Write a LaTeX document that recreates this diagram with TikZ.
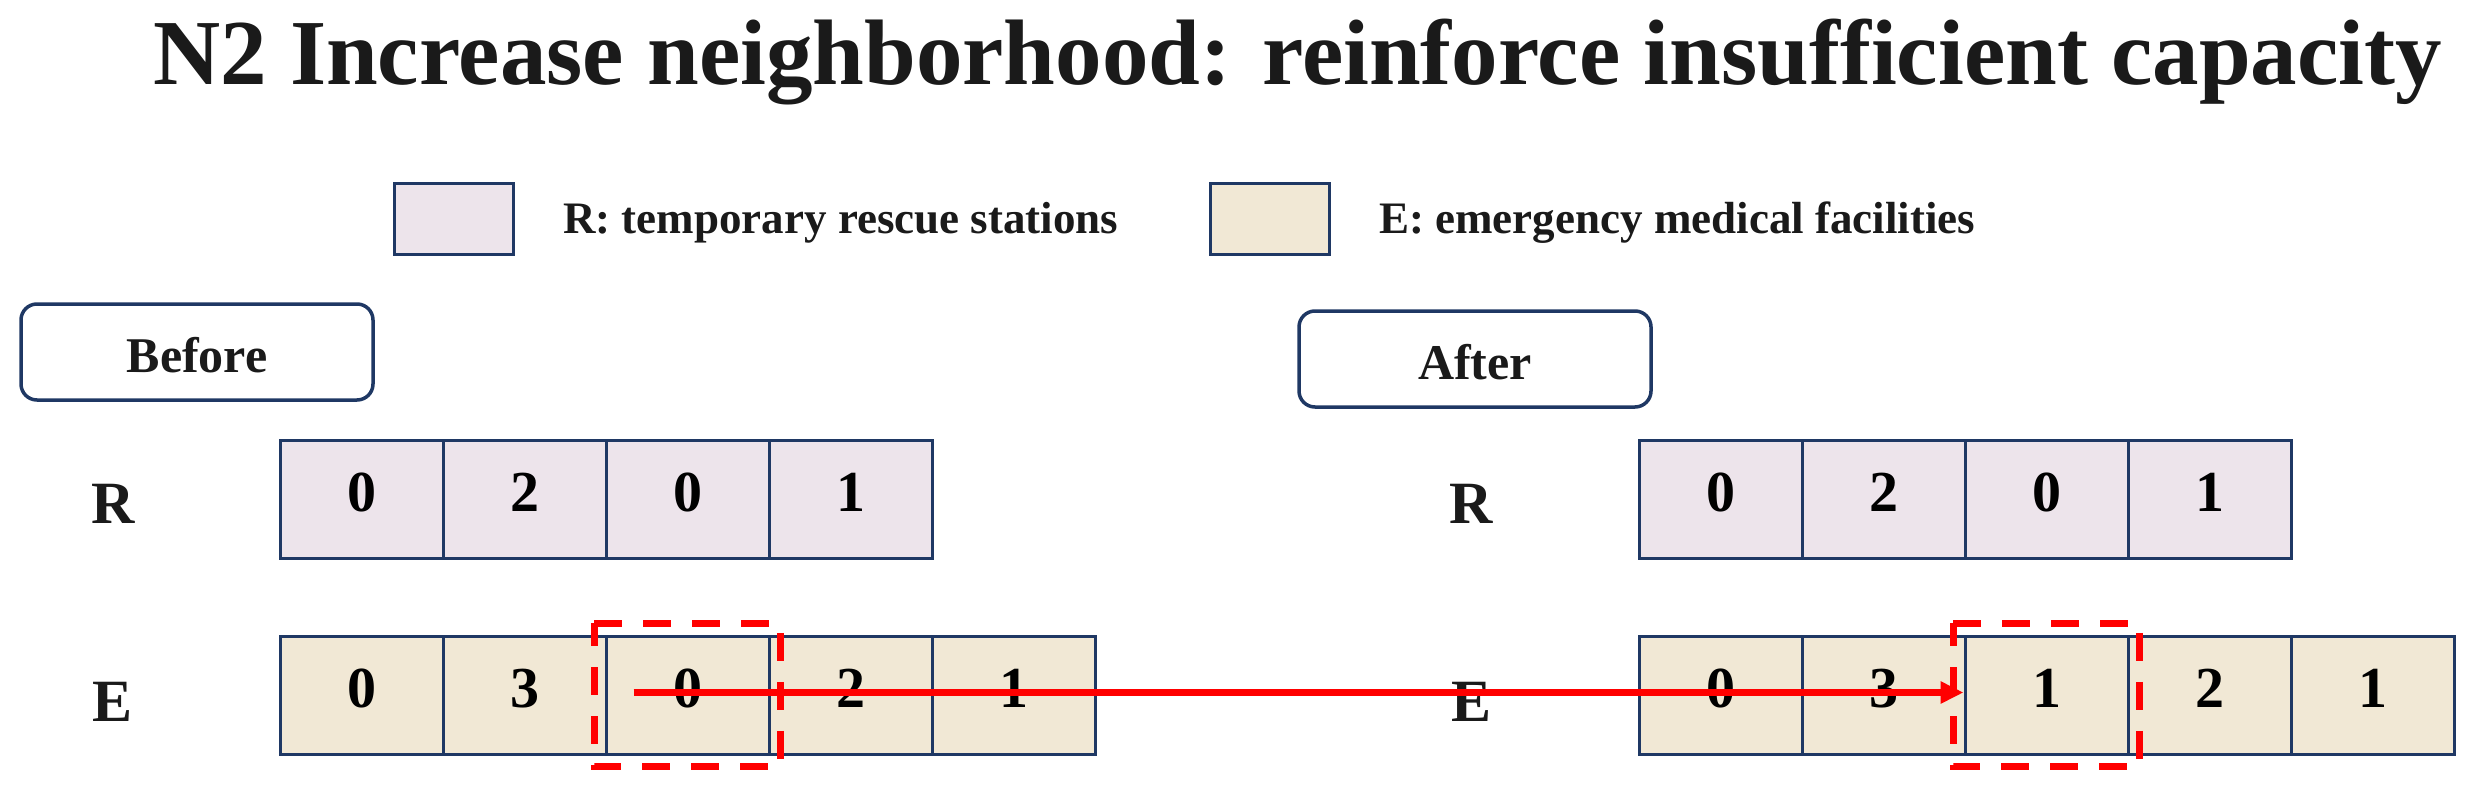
\documentclass[tikz,border=0pt]{standalone}
\usepackage{fontspec}
\setmainfont{Liberation Serif}
\usetikzlibrary{arrows.meta}
\definecolor{navy}{HTML}{1F3864}
\definecolor{rfill}{HTML}{EDE4EB}
\definecolor{efill}{HTML}{F1E8D5}
\definecolor{txt}{HTML}{1A1A1A}
\definecolor{redline}{HTML}{FF0000}
\begin{document}
\begin{tikzpicture}[x=1pt,y=-1pt,
  cellbase/.style={draw=navy, line width=3pt, minimum width=163pt, minimum height=118pt,
    inner sep=0pt, text height=40pt, text depth=16pt, text=black,
    font=\fontsize{58}{60}\selectfont\bfseries},
  cellR/.style={cellbase, fill=rfill},
  cellE/.style={cellbase, fill=efill},
  legbox/.style={draw=navy, line width=3pt, minimum width=119pt, minimum height=71pt, inner sep=0pt},
  legtext/.style={anchor=base west, inner sep=0pt, text=txt, font=\fontsize{45}{50}\selectfont\bfseries},
  phasebox/.style={draw=navy, line width=3.5pt, rounded corners=16pt, minimum width=352pt,
    minimum height=96pt, inner sep=0pt, text height=44pt, text depth=4pt, text=txt,
    font=\fontsize{50}{55}\selectfont\bfseries},
  rowlabel/.style={anchor=base, inner sep=0pt, text=txt, font=\fontsize{60}{65}\selectfont\bfseries},
  selbox/.style={minimum width=186pt, minimum height=143pt, inner sep=0pt},
  selline/.style={draw=redline, line width=7pt, dash pattern=on 28pt off 21pt},
  movearrow/.style={draw=redline, line width=7pt, -{Triangle[length=23pt,width=21pt]}}
]
\useasboundingbox (0,0) rectangle (2475,789);

% title
\node[anchor=base west, inner sep=0pt, text=txt, font=\fontsize{93}{100}\selectfont\bfseries]
  (title) at (153,85) {N2 Increase neighborhood: reinforce insufficient capacity};

% legend
\node[legbox, fill=rfill] (legR) at (453.5,218.5) {};
\node[legtext] (legRt) at (563,233) {R: temporary rescue stations};
\node[legbox, fill=efill] (legE) at (1270,218.5) {};
\node[legtext] (legEt) at (1379,233) {E: emergency medical facilities};

% phase boxes
\node[phasebox] (before) at (197,352) {Before};
\node[phasebox] (after) at (1475,359) {After};

% row labels
\node[rowlabel] (bR) at (113,523) {R};
\node[rowlabel] (bE) at (113,721) {E};
\node[rowlabel] (aR) at (1471,523) {R};
\node[rowlabel] (aE) at (1471,721) {E};

% before cells
\node[cellR] (br1) at (361.5,499) {0};
\node[cellR] (br2) at (524.5,499) {2};
\node[cellR] (br3) at (687.5,499) {0};
\node[cellR] (br4) at (850.5,499) {1};
\node[cellE] (be1) at (361.5,695) {0};
\node[cellE] (be2) at (524.5,695) {3};
\node[cellE] (be3) at (687.5,695) {0};
\node[cellE] (be4) at (850.5,695) {2};
\node[cellE] (be5) at (1013.5,695) {1};

% after cells
\node[cellR] (ar1) at (1720.5,499) {0};
\node[cellR] (ar2) at (1883.5,499) {2};
\node[cellR] (ar3) at (2046.5,499) {0};
\node[cellR] (ar4) at (2209.5,499) {1};
\node[cellE] (ae1) at (1720.5,695) {0};
\node[cellE] (ae2) at (1883.5,695) {3};
\node[cellE] (ae3) at (2046.5,695) {1};
\node[cellE] (ae4) at (2209.5,695) {2};
\node[cellE] (ae5) at (2372.5,695) {1};

% selection boxes
\node[selbox] (selB) at (be3.center) {};
\node[selbox] (selA) at (ae3.center) {};
\draw[selline] (selB.north west) -- (selB.north east) -- (selB.south east) -- (selB.south west) -- cycle;
\draw[selline] (selA.north west) -- (selA.north east) -- (selA.south east) -- (selA.south west) -- cycle;

% arrow
\draw[movearrow] ([xshift=29pt,yshift=2.5pt]be3.west) -- ([yshift=2.5pt]ae3.west);
\end{tikzpicture}
\end{document}
